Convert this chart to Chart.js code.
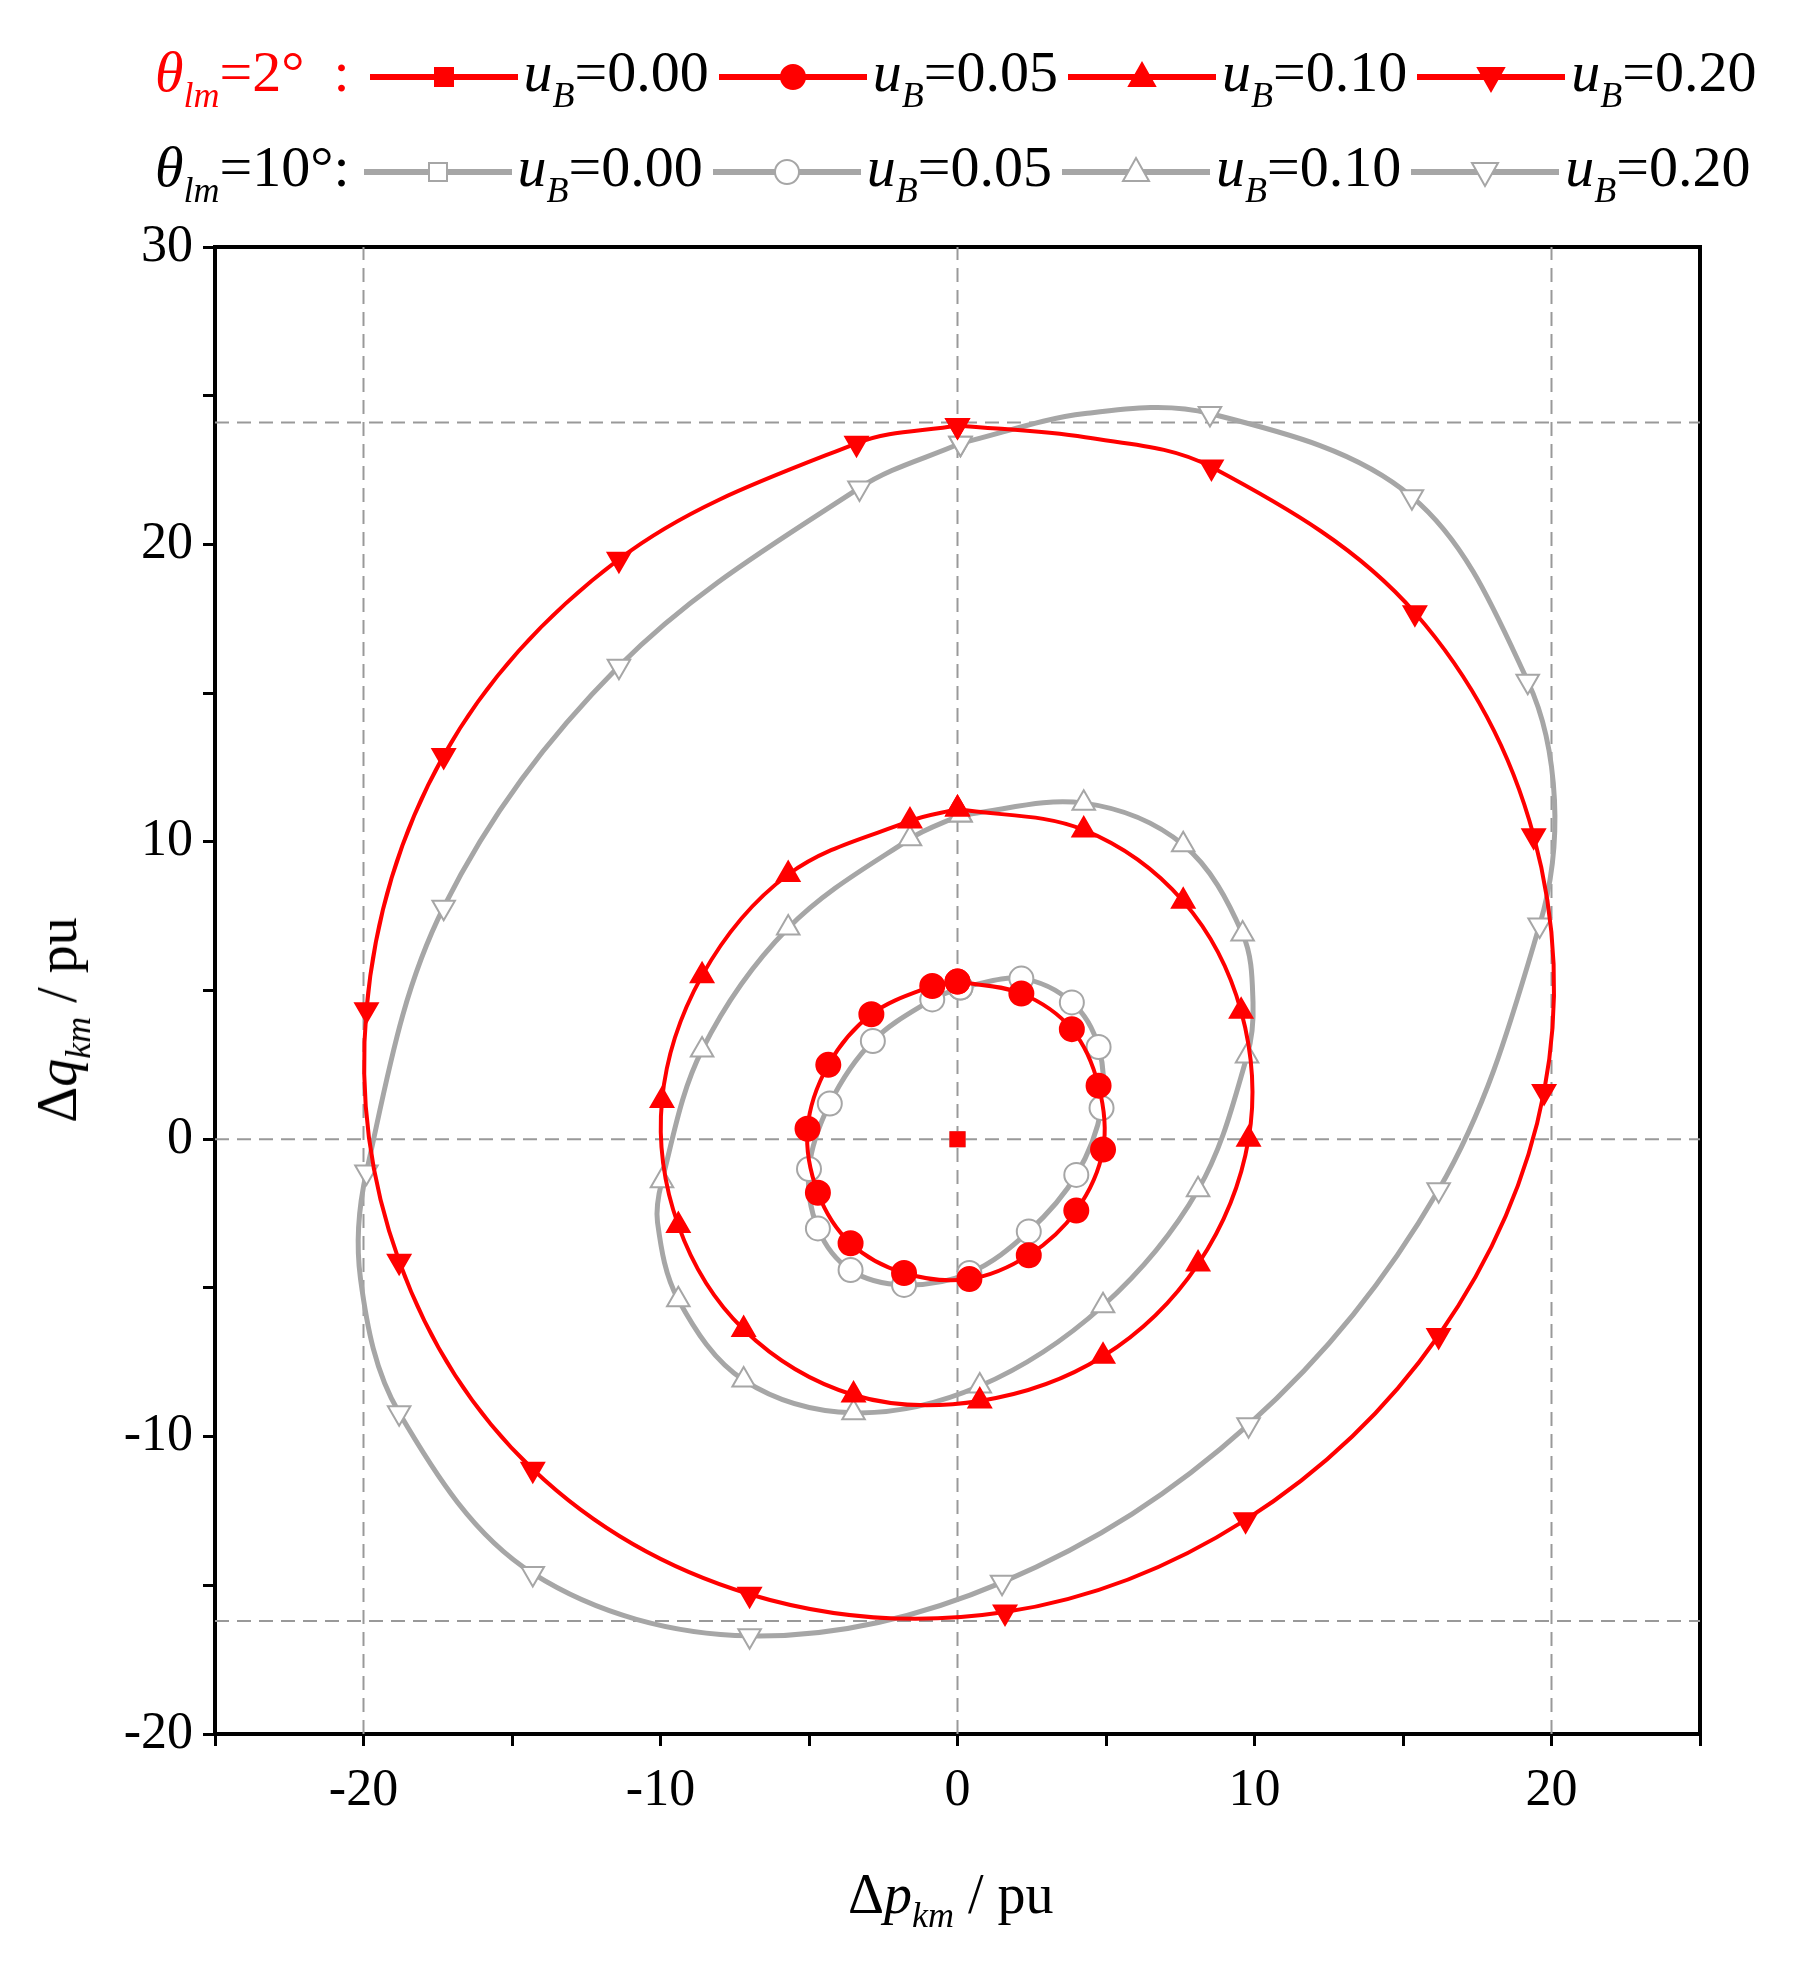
<!DOCTYPE html>
<html><head><meta charset="utf-8">
<script src="https://cdn.jsdelivr.net/npm/chart.js@4"></script>
<style>
body{margin:0;background:#fff;font-family:"Liberation Serif","DejaVu Serif",serif;}
#wrap{position:relative;width:1804px;height:1971px;}
canvas{position:absolute;left:0;top:0;}
.row{position:absolute;left:155px;display:flex;align-items:center;font-size:58px;white-space:nowrap;}
.row i{font-style:italic}
.row sub{font-size:36px;font-style:italic;vertical-align:-16px}
.lab{margin-right:4px}
svg{margin:0 6px}
.ttl{position:absolute;font-size:56px;white-space:nowrap}
.ttl sub{font-size:36px;font-style:italic;vertical-align:-14px}
</style></head><body>
<div id="wrap"><canvas id="c" width="1804" height="1971"></canvas>
<div class="row" id="r1" style="top:38px"></div>
<div class="row" id="r2" style="top:133px"></div>
<div class="ttl" style="left:848px;top:1862px">Δ<i>p</i><sub>km</sub> / pu</div>
<div class="ttl" style="left:62px;top:1020px;transform:translate(-50%,-50%) rotate(-90deg);transform-origin:center">Δ<i>q</i><sub>km</sub> / pu</div>
</div>
<script>
const legendLabels=['0.00','0.05','0.10','0.20'];
const red00=[[0,0]];
const red05=[[0,5.3],[2.15,4.9],[3.85,3.7],[4.75,1.8],[4.9,-0.35],[4.0,-2.4],[2.4,-3.9],[0.4,-4.7],[-1.8,-4.5],[-3.6,-3.5],[-4.7,-1.8],[-5.05,0.35],[-4.35,2.5],[-2.9,4.2],[-0.85,5.15],[0,5.3]];
const red10=[[0,11.1],[4.25,10.4],[7.6,8.0],[9.55,4.3],[9.8,0],[8.1,-4.2],[4.9,-7.3],[0.75,-8.8],[-3.5,-8.6],[-7.2,-6.4],[-9.4,-2.9],[-9.95,1.3],[-8.6,5.5],[-5.7,8.9],[-1.6,10.7],[0,11.1]];
const red20=[[0,24.0],[4.3,23.6],[8.55,22.6],[15.4,17.7],[19.4,10.2],[19.75,1.6],[16.2,-6.6],[9.7,-12.8],[1.6,-15.9],[-7.0,-15.3],[-14.3,-11.1],[-18.8,-4.1],[-19.9,4.35],[-17.3,12.9],[-11.4,19.5],[-3.4,23.4],[0,24.0]];
const red20Marks=[1,0,1,1,1,1,1,1,1,1,1,1,1,1,1,1,1];
const gray00=[[0,0]];
const gray05=[[0.1,5.1],[2.15,5.4],[3.85,4.6],[4.75,3.1],[4.85,1.05],[4.0,-1.2],[2.4,-3.1],[0.4,-4.5],[-1.8,-4.9],[-3.6,-4.4],[-4.7,-3.0],[-5.0,-1.0],[-4.3,1.2],[-2.85,3.3],[-0.85,4.7],[0.1,5.1]];
const gray10=[[0.1,10.9],[4.25,11.3],[7.6,9.9],[9.6,6.9],[9.95,4.6],[9.75,2.8],[8.1,-1.7],[4.9,-5.6],[0.75,-8.3],[-3.5,-9.2],[-7.2,-8.1],[-9.4,-5.4],[-10.1,-2.8],[-9.95,-1.4],[-8.6,3.0],[-5.7,7.1],[-1.6,10.1],[0.1,10.9]];
const gray10Marks=[1,1,1,1,0,1,1,1,1,1,1,1,0,1,1,1,1,1];
const gray20=[[0.1,23.4],[4.3,24.4],[8.5,24.4],[15.3,21.6],[19.2,15.4],[20.1,11.4],[19.6,7.2],[16.2,-1.7],[9.8,-9.6],[1.5,-14.9],[-7.0,-16.7],[-14.3,-14.6],[-18.8,-9.2],[-20.1,-4.7],[-19.9,-1.1],[-17.3,7.8],[-11.4,15.9],[-3.3,21.9],[0.1,23.4]];
const gray20Marks=[1,0,1,1,1,0,1,1,1,1,1,1,1,0,1,1,1,1,1];
const refX=[-20,0,20];
const refY=[0,24.1,-16.2];
const xTicks=[-20,-10,0,10,20], yTicks=[-20,-10,0,10,20,30];

const RED='#ff0000', GRAY='#a6a6a6';
function pts(a){return a.map(p=>({x:p[0],y:p[1]}));}
function ds(a,color,style,fill,marks,rot,lw,r){
  return {data:pts(a),borderColor:color,borderWidth:lw,showLine:true,tension:0.35,
    pointStyle:style,pointRotation:rot||0,pointBackgroundColor:fill,pointBorderColor:color,pointBorderWidth:2,
    pointRadius:a.map((p,i)=>marks?(marks[i]?r:0):r)};
}
const datasets=[];
datasets.push(ds(red00,RED,'rect',RED,null,0,4,10));
datasets.push(ds(red05,RED,'circle',RED,null,0,4,12));
datasets.push(ds(red10,RED,'triangle',RED,null,0,4,13));
datasets.push(ds(red20,RED,'triangle',RED,red20Marks,180,4,13));
datasets.push(ds(gray00,GRAY,'rect','#fff',null,0,5,10));
datasets.push(ds(gray05,GRAY,'circle','#fff',null,0,5,12));
datasets.push(ds(gray10,GRAY,'triangle','#fff',gray10Marks,0,5,13));
datasets.push(ds(gray20,GRAY,'triangle','#fff',gray20Marks,180,5,13));
refX.forEach(v=>datasets.push({data:[{x:v,y:-20},{x:v,y:30}],borderColor:'#999',borderWidth:2,borderDash:[14,8],pointRadius:0,showLine:true}));
refY.forEach(v=>datasets.push({data:[{x:-25,y:v},{x:25,y:v}],borderColor:'#999',borderWidth:2,borderDash:[14,8],pointRadius:0,showLine:true}));

const tickFont={family:'Liberation Serif',size:52};
new Chart(document.getElementById('c'),{type:'scatter',data:{datasets},
options:{responsive:false,animation:false,events:[],
 layout:{padding:{left:0,top:247,right:104,bottom:137}},
 plugins:{legend:{display:false},tooltip:{enabled:false}},
 scales:{
  x:{type:'linear',min:-25,max:25,afterFit:s=>{s.height=100},
     afterBuildTicks:s=>{s.ticks=[];for(let v=-25;v<=25;v+=5)s.ticks.push({value:v});},
     ticks:{font:tickFont,color:'#000',padding:14,autoSkip:false,maxRotation:0,callback:v=>xTicks.includes(v)?String(v):''},
     grid:{drawOnChartArea:false,drawTicks:true,tickLength:12,color:'#000',lineWidth:3},border:{color:'#000',width:4}},
  x2:{type:'linear',position:'top',min:-25,max:25,afterFit:s=>{s.height=0},ticks:{display:false},grid:{display:false},border:{color:'#000',width:4}},
  y:{type:'linear',min:-20,max:30,afterFit:s=>{s.width=215},
     afterBuildTicks:s=>{s.ticks=[];for(let v=-20;v<=30;v+=5)s.ticks.push({value:v});},
     ticks:{font:tickFont,color:'#000',padding:10,autoSkip:false,callback:v=>yTicks.includes(v)?String(v):''},
     grid:{drawOnChartArea:false,drawTicks:true,tickLength:12,color:'#000',lineWidth:3},border:{color:'#000',width:4}},
  y2:{type:'linear',position:'right',min:-20,max:30,afterFit:s=>{s.width=0},ticks:{display:false},grid:{display:false},border:{color:'#000',width:4}}
 }}});

function sample(color,shape,fill){
  let m='';
  if(shape==='rect')m=`<rect x="65" y="13" width="18" height="18" fill="${fill}" stroke="${color}" stroke-width="2"/>`;
  if(shape==='circle')m=`<circle cx="74" cy="22" r="12" fill="${fill}" stroke="${color}" stroke-width="2"/>`;
  if(shape==='up')m=`<polygon points="74,8 87,31 61,31" fill="${fill}" stroke="${color}" stroke-width="2"/>`;
  if(shape==='down')m=`<polygon points="74,36 87,13 61,13" fill="${fill}" stroke="${color}" stroke-width="2"/>`;
  return `<svg width="148" height="44"><line x1="0" y1="22" x2="148" y2="22" stroke="${color}" stroke-width="6"/>${m}</svg>`;
}
const shapes=['rect','circle','up','down'];
function row(id,head,color,fill){
  let h=head;
  shapes.forEach((s,i)=>{h+=sample(color,s,fill)+`<span class="lab"><i>u</i><sub>B</sub>=${legendLabels[i]}</span>`;});
  document.getElementById(id).innerHTML=h;
}
row('r1',`<span style="color:${RED};margin-right:14px"><i>θ</i><sub>lm</sub>=2°&nbsp;&nbsp;:</span>`,RED,RED);
row('r2',`<span style="margin-right:8px"><i>θ</i><sub>lm</sub>=10°:</span>`,GRAY,'#fff');
</script></body></html>
